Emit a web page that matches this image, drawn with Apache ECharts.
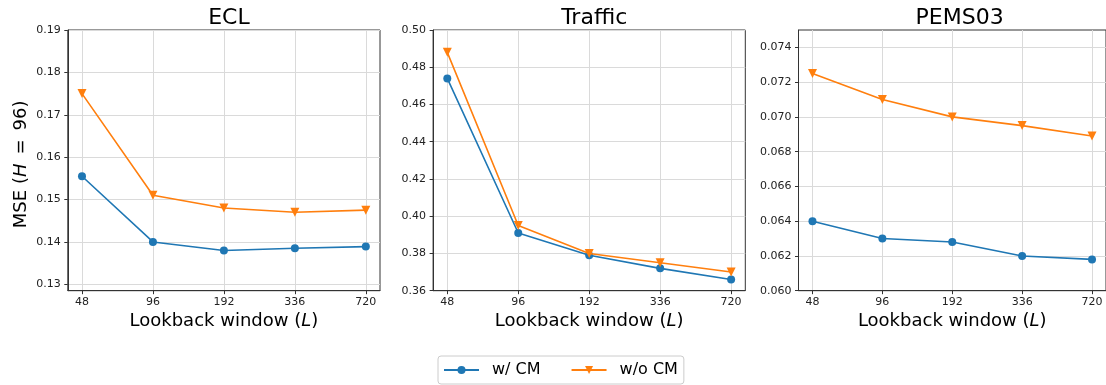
<!DOCTYPE html>
<html><head><meta charset="utf-8">
<script src="https://cdn.jsdelivr.net/npm/echarts@6/dist/echarts.min.js"></script>
<style>html,body{margin:0;padding:0;background:#fff}#c{width:1106px;height:385px}</style>
</head><body><div id="c"></div>
<script>
const categories = ['48', '96', '192', '336', '720'];
const titles = ['ECL', 'Traffic', 'PEMS03'];
const seriesNames = ['w/ CM', 'w/o CM'];
const eclWith = [0.1555, 0.140, 0.138, 0.1385, 0.1389];
const eclWithout = [0.175, 0.151, 0.148, 0.147, 0.1475];
const trafficWith = [0.474, 0.391, 0.379, 0.372, 0.366];
const trafficWithout = [0.488, 0.395, 0.380, 0.375, 0.370];
const pemsWith = [0.0640, 0.0630, 0.0628, 0.0620, 0.0618];
const pemsWithout = [0.0725, 0.0710, 0.0700, 0.0695, 0.0689];
const eclTicks = [0.13, 0.14, 0.15, 0.16, 0.17, 0.18, 0.19];
const trafficTicks = [0.36, 0.38, 0.40, 0.42, 0.44, 0.46, 0.48, 0.50];
const pemsTicks = [0.060, 0.062, 0.064, 0.066, 0.068, 0.070, 0.072, 0.074];

const panels = [
  {w: eclWith, wo: eclWithout, ticks: eclTicks, min: 0.1285, max: 0.19, dec: 2, left: 67.8},
  {w: trafficWith, wo: trafficWithout, ticks: trafficTicks, min: 0.36, max: 0.50, dec: 2, left: 433.1},
  {w: pemsWith, wo: pemsWithout, ticks: pemsTicks, min: 0.060, max: 0.075, dec: 3, left: 798.5}
];
const W = 312.2;
const blue = '#1f77b4', orange = '#ff7f0e';
const frame = '#333333', gridC = '#dadada', txt = '#222222';
const xIdx = categories.map((c, i) => i);

const option = {
  animation: false,
  backgroundColor: '#ffffff',
  title: panels.map((p, i) => ({
    text: titles[i], left: p.left + W / 2, top: 2, textAlign: 'center',
    textStyle: {fontFamily: 'DejaVu Sans', fontSize: 22, fontWeight: 'normal', color: '#000'}
  })),
  legend: {
    data: seriesNames, left: 438, top: 356, itemWidth: 35, itemHeight: 10, itemGap: 30,
    padding: [6, 6, 6, 5], borderColor: '#cccccc', borderWidth: 1, borderRadius: 3,
    textStyle: {fontFamily: 'DejaVu Sans', fontSize: 16, color: '#000', padding: [0, 0, 0, 8]}
  },
  grid: panels.map(p => ({
    left: p.left, width: W, top: 30, height: 260.7, show: true,
    borderColor: frame, borderWidth: 1, backgroundColor: 'transparent', containLabel: false
  })),
  xAxis: panels.map((p, i) => ({
    type: 'value', gridIndex: i, min: -0.2, max: 4.2,
    name: '{a|Lookback window (}{i|L}{a|)}', nameLocation: 'middle', nameGap: 22,
    nameTextStyle: {rich: {
      a: {fontFamily: 'DejaVu Sans', fontSize: 18, color: '#000'},
      i: {fontFamily: 'DejaVu Sans', fontSize: 18, fontStyle: 'italic', color: '#000'}
    }},
    axisLine: {show: true, onZero: false, lineStyle: {color: frame, width: 1}},
    axisTick: {show: true, inside: false, length: 3.5, lineStyle: {color: frame}, customValues: xIdx},
    axisLabel: {customValues: xIdx, margin: 6, fontFamily: 'DejaVu Sans', fontSize: 11, color: txt,
      formatter: v => categories[Math.round(v)]},
    splitLine: {show: true, lineStyle: {color: gridC, width: 1}}
  })),
  yAxis: panels.map((p, i) => ({
    type: 'value', gridIndex: i, min: p.min, max: p.max,
    name: i === 0 ? '{a|MSE (}{i|H}{s|}{a|=}{s|}{a|96)}' : '', nameLocation: 'middle', nameGap: 37,
    nameTextStyle: {padding: [0, 8, 0, 0], rich: {
      a: {fontFamily: 'DejaVu Sans', fontSize: 18, color: '#000'},
      i: {fontFamily: 'DejaVu Sans', fontSize: 18, fontStyle: 'italic', color: '#000'},
      s: {width: 9, fontSize: 18}
    }},
    axisLine: {show: true, onZero: false, lineStyle: {color: frame, width: 1}},
    axisTick: {show: true, inside: false, length: 3.5, lineStyle: {color: frame}, customValues: p.ticks},
    axisLabel: {customValues: p.ticks, margin: 7, fontFamily: 'DejaVu Sans', fontSize: 11, color: txt,
      formatter: v => v.toFixed(p.dec)},
    splitLine: {show: true, lineStyle: {color: gridC, width: 1}}
  })),
  series: []
};
panels.forEach((p, i) => {
  option.series.push({
    name: seriesNames[0], type: 'line', xAxisIndex: i, yAxisIndex: i,
    data: p.w.map((v, k) => [k, v]), symbol: 'circle', symbolSize: 8,
    lineStyle: {color: blue, width: 1.6}, itemStyle: {color: blue}, z: 3
  });
  option.series.push({
    name: seriesNames[1], type: 'line', xAxisIndex: i, yAxisIndex: i,
    data: p.wo.map((v, k) => [k, v]), symbol: 'triangle', symbolRotate: 180, symbolSize: 9,
    lineStyle: {color: orange, width: 1.6}, itemStyle: {color: orange}, z: 4
  });
});
const chart = echarts.init(document.getElementById('c'));
chart.setOption(option);
</script></body></html>
